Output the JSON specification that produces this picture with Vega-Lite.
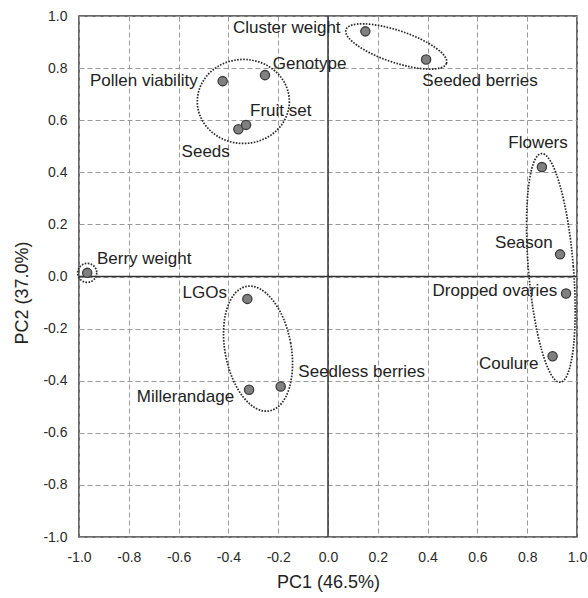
{
  "$schema": "https://vega.github.io/schema/vega-lite/v6.json",
  "width": 498,
  "height": 521,
  "autosize": {"type": "none"},
  "padding": {"left": 79, "top": 16, "right": 11, "bottom": 61},
  "background": "white",
  "config": {
    "view": {"stroke": "#3a3a3a", "strokeWidth": 1.5},
    "font": "Liberation Sans"
  },
  "datasets": {
    "vars": [
      {"name": "Berry weight", "x": -0.967, "y": 0.014, "lx": -0.928, "ly": 0.049},
      {"name": "Pollen viability", "x": -0.423, "y": 0.750, "lx": -0.956, "ly": 0.731},
      {"name": "Genotype", "x": -0.253, "y": 0.773, "lx": -0.222, "ly": 0.796},
      {"name": "Seeds", "x": -0.360, "y": 0.565, "lx": -0.588, "ly": 0.460},
      {"name": "Fruit set", "x": -0.329, "y": 0.582, "lx": -0.313, "ly": 0.617},
      {"name": "Cluster weight", "x": 0.150, "y": 0.941, "lx": -0.382, "ly": 0.935},
      {"name": "Seeded berries", "x": 0.394, "y": 0.833, "lx": 0.379, "ly": 0.730},
      {"name": "Flowers", "x": 0.859, "y": 0.420, "lx": 0.724, "ly": 0.492},
      {"name": "Season", "x": 0.932, "y": 0.085, "lx": 0.671, "ly": 0.110},
      {"name": "Dropped ovaries", "x": 0.956, "y": -0.065, "lx": 0.420, "ly": -0.076},
      {"name": "Coulure", "x": 0.902, "y": -0.306, "lx": 0.606, "ly": -0.355},
      {"name": "LGOs", "x": -0.324, "y": -0.086, "lx": -0.584, "ly": -0.082},
      {"name": "Millerandage", "x": -0.317, "y": -0.435, "lx": -0.768, "ly": -0.482},
      {"name": "Seedless berries", "x": -0.190, "y": -0.422, "lx": -0.119, "ly": -0.387}
    ],
    "groups": [
      {"group": "G1", "x": -0.967, "y": 0.014},
      {"group": "G2", "x": -0.340, "y": 0.672},
      {"group": "G3", "x": 0.274, "y": 0.883},
      {"group": "G4", "x": 0.895, "y": 0.033},
      {"group": "G5", "x": -0.281, "y": -0.277}
    ]
  },
  "layer": [
    {
      "data": {"name": "vars"},
      "mark": {"type": "point", "opacity": 0},
      "encoding": {
        "x": {
          "field": "x", "type": "quantitative",
          "scale": {"domain": [-1, 1], "nice": false, "zero": false},
          "axis": {
            "values": [-1, -0.8, -0.6, -0.4, -0.2, 0, 0.2, 0.4, 0.6, 0.8, 1],
            "labelExpr": "replace(format(datum.value, '.1f'), '\u2212', '-')",
            "grid": true, "gridDash": [5, 3], "gridColor": "#9a9a9a", "gridWidth": 1,
            "domain": false, "ticks": false, "tickSize": 0,
            "labelFlush": false, "labelOverlap": false,
            "labelPadding": 13, "labelFontSize": 14, "labelColor": "#2a2a2a", "labelFont": "Liberation Sans",
            "title": "PC1 (46.5%)", "titleFontSize": 18, "titleFontWeight": "normal", "titleColor": "#222222",
            "titleFont": "Liberation Sans",
            "titleX": 249, "titleY": 50, "titleBaseline": "alphabetic", "titleAlign": "center"
          }
        },
        "y": {
          "field": "y", "type": "quantitative",
          "scale": {"domain": [-1, 1], "nice": false, "zero": false},
          "axis": {
            "values": [-1, -0.8, -0.6, -0.4, -0.2, 0, 0.2, 0.4, 0.6, 0.8, 1],
            "labelExpr": "replace(format(datum.value, '.1f'), '\u2212', '-')",
            "grid": true, "gridDash": [5, 3], "gridColor": "#9a9a9a", "gridWidth": 1,
            "domain": false, "ticks": false, "tickSize": 0,
            "labelFlush": false, "labelOverlap": false,
            "labelPadding": 12, "labelFontSize": 14, "labelColor": "#2a2a2a", "labelFont": "Liberation Sans",
            "title": "PC2 (37.0%)", "titleFontSize": 18, "titleFontWeight": "normal", "titleColor": "#222222",
            "titleFont": "Liberation Sans",
            "titleX": -57, "titleY": 276.5, "titleBaseline": "middle", "titleAlign": "center", "titleAngle": 270
          }
        }
      }
    },
    {
      "data": {"values": [{}]},
      "mark": {"type": "rule", "color": "#333333", "strokeWidth": 1.5},
      "encoding": {"x": {"datum": 0, "type": "quantitative"}}
    },
    {
      "data": {"values": [{}]},
      "mark": {"type": "rule", "color": "#333333", "strokeWidth": 1.5},
      "encoding": {"y": {"datum": 0, "type": "quantitative"}}
    },
    {
      "data": {"name": "groups"},
      "transform": [{"filter": "datum.group === 'G1'"}],
      "mark": {"type": "point", "filled": false, "opacity": 1, "size": 40000, "stroke": "#2a2a2a", "strokeWidth": 1.7, "strokeDash": [1.6, 1.4],
        "shape": "M 0.095 0 C 0.095 0.0525 0.0525 0.095 0 0.095 C -0.0525 0.095 -0.095 0.0525 -0.095 0 C -0.095 -0.0525 -0.0525 -0.095 0 -0.095 C 0.0525 -0.095 0.095 -0.0525 0.095 0 Z"},
      "encoding": {"x": {"field": "x", "type": "quantitative"}, "y": {"field": "y", "type": "quantitative"}}
    },
    {
      "data": {"name": "groups"},
      "transform": [{"filter": "datum.group === 'G2'"}],
      "mark": {"type": "point", "filled": false, "opacity": 1, "size": 40000, "stroke": "#2a2a2a", "strokeWidth": 1.7, "strokeDash": [1.6, 1.4],
        "shape": "M 0.46 0 C 0.46 0.232 0.2541 0.42 0 0.42 C -0.2541 0.42 -0.46 0.232 -0.46 0 C -0.46 -0.232 -0.2541 -0.42 0 -0.42 C 0.2541 -0.42 0.46 -0.232 0.46 0 Z"},
      "encoding": {"x": {"field": "x", "type": "quantitative"}, "y": {"field": "y", "type": "quantitative"}}
    },
    {
      "data": {"name": "groups"},
      "transform": [{"filter": "datum.group === 'G3'"}],
      "mark": {"type": "point", "filled": false, "opacity": 1, "size": 40000, "angle": 18.5, "stroke": "#2a2a2a", "strokeWidth": 1.7, "strokeDash": [1.6, 1.4],
        "shape": "M 0.53 0 C 0.53 0.0884 0.2927 0.16 0 0.16 C -0.2927 0.16 -0.53 0.0884 -0.53 0 C -0.53 -0.0884 -0.2927 -0.16 0 -0.16 C 0.2927 -0.16 0.53 -0.0884 0.53 0 Z"},
      "encoding": {"x": {"field": "x", "type": "quantitative"}, "y": {"field": "y", "type": "quantitative"}}
    },
    {
      "data": {"name": "groups"},
      "transform": [{"filter": "datum.group === 'G4'"}],
      "mark": {"type": "point", "filled": false, "opacity": 1, "size": 40000, "angle": 355.3, "stroke": "#2a2a2a", "strokeWidth": 1.7, "strokeDash": [1.6, 1.4],
        "shape": "M 0.225 0 C 0.225 0.6335 0.1243 1.147 0 1.147 C -0.1243 1.147 -0.225 0.6335 -0.225 0 C -0.225 -0.6335 -0.1243 -1.147 0 -1.147 C 0.1243 -1.147 0.225 -0.6335 0.225 0 Z"},
      "encoding": {"x": {"field": "x", "type": "quantitative"}, "y": {"field": "y", "type": "quantitative"}}
    },
    {
      "data": {"name": "groups"},
      "transform": [{"filter": "datum.group === 'G5'"}],
      "mark": {"type": "point", "filled": false, "opacity": 1, "size": 40000, "angle": 349.55, "stroke": "#2a2a2a", "strokeWidth": 1.7, "strokeDash": [1.6, 1.4],
        "shape": "M 0.331 0 C 0.331 0.3496 0.1828 0.633 0 0.633 C -0.1828 0.633 -0.331 0.3496 -0.331 0 C -0.331 -0.3496 -0.1828 -0.633 0 -0.633 C 0.1828 -0.633 0.331 -0.3496 0.331 0 Z"},
      "encoding": {"x": {"field": "x", "type": "quantitative"}, "y": {"field": "y", "type": "quantitative"}}
    },
    {
      "data": {"name": "vars"},
      "mark": {"type": "point", "shape": "circle", "filled": true, "opacity": 1, "size": 85, "fill": "#808080", "stroke": "#3c3c3c", "strokeWidth": 1.3},
      "encoding": {"x": {"field": "x", "type": "quantitative"}, "y": {"field": "y", "type": "quantitative"}}
    },
    {
      "data": {"name": "vars"},
      "mark": {"type": "text", "align": "left", "baseline": "alphabetic", "fontSize": 17, "font": "Liberation Sans", "color": "#222222"},
      "encoding": {
        "x": {"field": "lx", "type": "quantitative"},
        "y": {"field": "ly", "type": "quantitative"},
        "text": {"field": "name", "type": "nominal"}
      }
    }
  ]
}
